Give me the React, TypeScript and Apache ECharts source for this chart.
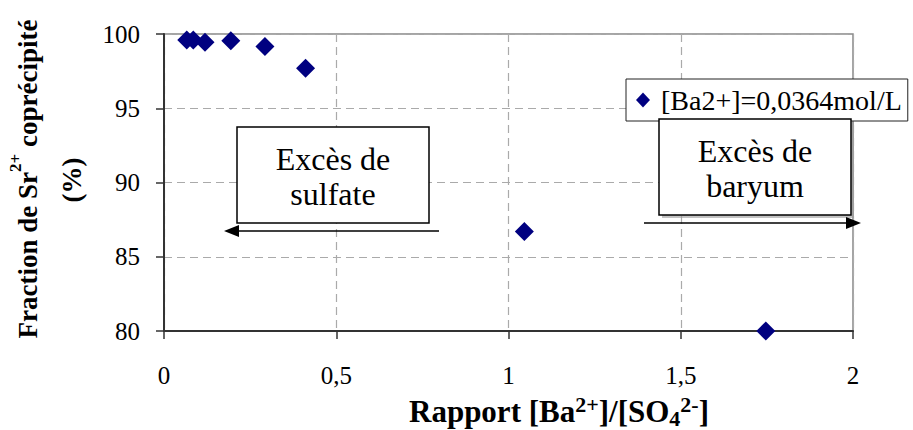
import React, { useEffect, useRef } from "react";
import * as echarts from "echarts";

const ratio = [0.066, 0.085, 0.119, 0.194, 0.293, 0.411, 1.046, 1.747];
const fraction = [99.6, 99.6, 99.45, 99.55, 99.15, 97.7, 86.7, 80.0];
const seriesName = "[Ba2+]=0,0364mol/L";
const xTicks = { min: 0, max: 2, interval: 0.5 };
const yTicks = { min: 80, max: 100, interval: 5 };

const FONT = "Liberation Serif";

export default function App() {
  const ref = useRef<HTMLDivElement>(null);
  useEffect(() => {
    if (!ref.current) return;
    const chart = echarts.init(ref.current, undefined, { renderer: "svg" });
    const data = ratio.map((x, i) => [x, fraction[i]]);
    chart.setOption({
      animation: false,
      backgroundColor: "#fff",
      textStyle: { fontFamily: FONT },
      grid: {
        left: 164,
        top: 34,
        right: 60,
        bottom: 99,
        show: true,
        borderColor: "#888",
        borderWidth: 1.5,
        backgroundColor: "transparent",
      },
      legend: {
        data: [{ name: seriesName, icon: "diamond" }],
        left: 626,
        top: 79,
        itemWidth: 14,
        itemHeight: 15,
        itemGap: 6,
        padding: [5, 6, 5, 10],
        borderColor: "#222",
        borderWidth: 1,
        backgroundColor: "#fff",
        textStyle: { fontFamily: FONT, fontSize: 28, lineHeight: 32, color: "#000", padding: [0, 0, 0, 6] },
        z: 5,
      },
      xAxis: {
        type: "value",
        min: xTicks.min,
        max: xTicks.max,
        interval: xTicks.interval,
        axisLine: { show: true, onZero: false, lineStyle: { color: "#333", width: 2 } },
        axisTick: { show: true, inside: false, length: 8, lineStyle: { color: "#333", width: 1.5 } },
        axisLabel: {
          margin: 32,
          fontFamily: FONT,
          fontSize: 25,
          color: "#000",
          formatter: (v: number) => String(v).replace(".", ","),
        },
        splitLine: { show: true, lineStyle: { color: "#aaa", type: [8, 5], width: 1.2 } },
      },
      yAxis: {
        type: "value",
        min: yTicks.min,
        max: yTicks.max,
        interval: yTicks.interval,
        axisLine: { show: true, onZero: false, lineStyle: { color: "#333", width: 2 } },
        axisTick: { show: true, inside: false, length: 8, lineStyle: { color: "#333", width: 1.5 } },
        axisLabel: { margin: 24, fontFamily: FONT, fontSize: 25, color: "#000" },
        splitLine: { show: true, lineStyle: { color: "#aaa", type: [8, 5], width: 1.2 } },
      },
      series: [
        {
          name: seriesName,
          type: "scatter",
          symbol: "diamond",
          symbolSize: 19,
          itemStyle: { color: "#000080", opacity: 1 },
          data,
          z: 3,
        },
      ],
      graphic: [
        {
          type: "text",
          x: 24,
          y: 179,
          rotation: Math.PI / 2,
          z: 50,
          style: {
            text: "{m|Fraction de Sr}{s|2+}{m| coprécipité}",
            align: "center",
            verticalAlign: "middle",
            rich: {
              m: { fontFamily: FONT, fontSize: 27, fontWeight: "bold", lineHeight: 34, verticalAlign: "bottom", fill: "#000" },
              s: { fontFamily: FONT, fontSize: 17, fontWeight: "bold", lineHeight: 17, verticalAlign: "top", fill: "#000" },
            },
          },
        },
        {
          type: "text",
          x: 72,
          y: 180,
          rotation: Math.PI / 2,
          z: 50,
          style: {
            text: "(%)",
            align: "center",
            verticalAlign: "middle",
            fontFamily: FONT,
            fontSize: 27,
            fontWeight: "bold",
            fill: "#000",
          },
        },
        {
          type: "text",
          x: 559,
          y: 411,
          z: 50,
          style: {
            text: "{m|Rapport [Ba}{s|2+}{m|]/[SO}{b|4}{s|2-}{m|]}",
            align: "center",
            verticalAlign: "middle",
            rich: {
              m: { fontFamily: FONT, fontSize: 31, fontWeight: "bold", lineHeight: 36, verticalAlign: "middle", fill: "#000" },
              s: { fontFamily: FONT, fontSize: 22, fontWeight: "bold", lineHeight: 22, verticalAlign: "top", fill: "#000" },
              b: { fontFamily: FONT, fontSize: 22, fontWeight: "bold", lineHeight: 22, verticalAlign: "bottom", fill: "#000" },
            },
          },
        },
        // Excès de sulfate
        {
          type: "rect",
          z: 60,
          shape: { x: 237, y: 127, width: 192, height: 96 },
          style: { fill: "#fff", stroke: "#000", lineWidth: 1.5 },
        },
        {
          type: "text",
          z: 61,
          x: 333,
          y: 176,
          style: {
            text: "Excès de\nsulfate",
            align: "center",
            verticalAlign: "middle",
            fontFamily: FONT,
            fontSize: 32,
            lineHeight: 35,
            fill: "#000",
          },
        },
        {
          type: "line",
          z: 60,
          shape: { x1: 439, y1: 231, x2: 236, y2: 231 },
          style: { stroke: "#000", lineWidth: 1.5 },
        },
        {
          type: "polygon",
          z: 60,
          shape: { points: [[224, 231], [239, 225], [239, 237]] },
          style: { fill: "#000" },
        },
        // Excès de baryum
        {
          type: "rect",
          z: 59,
          shape: { x: 662, y: 122, width: 192, height: 96 },
          style: { fill: "#999", opacity: 0.6 },
        },
        {
          type: "rect",
          z: 60,
          shape: { x: 659, y: 119, width: 192, height: 96 },
          style: { fill: "#fff", stroke: "#000", lineWidth: 1.5 },
        },
        {
          type: "text",
          z: 61,
          x: 755,
          y: 168,
          style: {
            text: "Excès de\nbaryum",
            align: "center",
            verticalAlign: "middle",
            fontFamily: FONT,
            fontSize: 32,
            lineHeight: 35,
            fill: "#000",
          },
        },
        {
          type: "line",
          z: 60,
          shape: { x1: 644, y1: 223, x2: 848, y2: 223 },
          style: { stroke: "#000", lineWidth: 1.5 },
        },
        {
          type: "polygon",
          z: 60,
          shape: { points: [[861, 223], [846, 217], [846, 229]] },
          style: { fill: "#000" },
        },
      ],
    });
    return () => chart.dispose();
  }, []);
  return (
    <div
      ref={ref}
      style={{ position: "fixed", left: 0, top: 0, width: 913, height: 430 }}
    />
  );
}
